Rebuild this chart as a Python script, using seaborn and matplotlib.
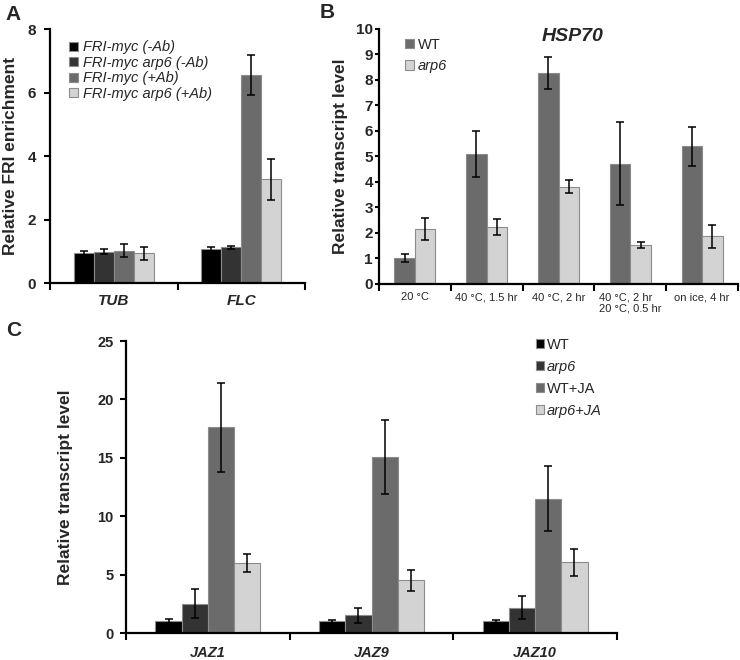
import numpy as np
import pandas as pd
import matplotlib
matplotlib.use('Agg')
import matplotlib.pyplot as plt
import seaborn as sns

# estilo
sns.set_theme(style='white')
plt.rcParams['font.family'] = ['Liberation Sans', 'DejaVu Sans']

# --- datos panel A (ChIP FRI-myc)
genes_a = ['TUB', 'FLC']
grupos_a = ['FRI-myc (-Ab)', 'FRI-myc arp6 (-Ab)', 'FRI-myc (+Ab)', 'FRI-myc arp6 (+Ab)']
medias_a = [[0.95, 1.07], [0.98, 1.12], [1.02, 6.55], [0.93, 3.27]]
errores_a = [[0.07, 0.05], [0.08, 0.04], [0.20, 0.62], [0.22, 0.65]]
colores_a = ['#000000', '#333333', '#6b6b6b', '#d3d3d3']

# --- datos panel B (HSP70)
condiciones_b = ['20 °C', '40 °C, 1.5 hr', '40 °C, 2 hr', '40 °C, 2 hr\n20 °C, 0.5 hr', 'on ice, 4 hr']
grupos_b = ['WT', 'arp6']
medias_b = [[1.02, 5.10, 8.27, 4.72, 5.40], [2.15, 2.23, 3.82, 1.53, 1.88]]
errores_b = [[0.17, 0.90, 0.62, 1.62, 0.77], [0.43, 0.30, 0.25, 0.12, 0.45]]
colores_b = ['#6b6b6b', '#d3d3d3']

# --- datos panel C (JAZ)
genes_c = ['JAZ1', 'JAZ9', 'JAZ10']
grupos_c = ['WT', 'arp6', 'WT+JA', 'arp6+JA']
medias_c = [[1.0, 1.0, 1.0], [2.50, 1.51, 2.16], [17.6, 15.08, 11.5], [5.99, 4.50, 6.04]]
errores_c = [[0.20, 0.15, 0.15], [1.24, 0.67, 1.00], [3.78, 3.16, 2.77], [0.77, 0.90, 1.14]]
colores_c = ['#000000', '#333333', '#6b6b6b', '#d3d3d3']


def barras(ax, cats, grupos, medias, errores, colores, ancho):
    filas = []
    for g, m in zip(grupos, medias):
        for c, v in zip(cats, m):
            filas.append({'cat': c, 'grupo': g, 'valor': v})
    df = pd.DataFrame(filas)
    sns.barplot(data=df, x='cat', y='valor', hue='grupo', order=cats, hue_order=grupos,
                palette=colores, width=ancho, errorbar=None, saturation=1,
                edgecolor='#8c8c8c', linewidth=0.8, ax=ax)
    for cont, e in zip(ax.containers, errores):
        xs = [p.get_x() + p.get_width() / 2 for p in cont]
        ys = [p.get_height() for p in cont]
        ax.errorbar(xs, ys, yerr=e, fmt='none', ecolor='black', elinewidth=1.1,
                    capsize=2.6, capthick=1.1, zorder=5)
    leg = ax.get_legend()
    handles = leg.legend_handles
    labels = [t.get_text() for t in leg.get_texts()]
    leg.remove()
    n = len(cats)
    ax.set_xlim(-0.5, n - 0.5)
    ax.set_xticks(np.arange(-0.5, n, 1.0), minor=True)
    ax.tick_params(axis='x', which='major', length=0)
    ax.tick_params(axis='x', which='minor', direction='out', length=5, width=1.5, color='black', bottom=True)
    ax.tick_params(axis='y', direction='out', length=4, width=1.5, color='black', left=True)
    sns.despine(ax=ax)
    for s in ['left', 'bottom']:
        ax.spines[s].set_linewidth(1.6)
        ax.spines[s].set_color('black')
    ax.set_xlabel('')
    return handles, labels


fig = plt.figure(figsize=(7.4, 6.6), dpi=100)
ax_a = fig.add_axes([0.0676, 0.5712, 0.3446, 0.3848])
ax_b = fig.add_axes([0.5122, 0.5697, 0.4851, 0.3864])
ax_c = fig.add_axes([0.1703, 0.0409, 0.6635, 0.4424])

# Panel A
h, l = barras(ax_a, genes_a, grupos_a, medias_a, errores_a, colores_a, 0.63)
ax_a.set_ylim(0, 8)
ax_a.set_yticks([0, 2, 4, 6, 8])
ax_a.set_yticklabels(['0', '2', '4', '6', '8'], fontsize=11, fontweight='bold')
ax_a.tick_params(axis='y', pad=6)
ax_a.set_xticks(range(2))
ax_a.set_xticklabels(genes_a, fontsize=11, fontweight='bold', style='italic')
ax_a.tick_params(axis='x', which='major', pad=8)
ax_a.set_ylabel('Relative FRI enrichment', fontsize=12.5, fontweight='bold')
ax_a.yaxis.set_label_coords(-0.125, 0.5)
ax_a.legend(h, l, loc='upper left', bbox_to_anchor=(0.075, 0.955), frameon=False,
            prop={'size': 10.5, 'style': 'italic'}, handlelength=0.6, handleheight=0.6,
            handletextpad=0.35, labelspacing=0.1, borderpad=0, borderaxespad=0)

# Panel B
h, l = barras(ax_b, condiciones_b, grupos_b, medias_b, errores_b, colores_b, 0.57)
ax_b.set_ylim(0, 10)
ax_b.set_yticks(range(11))
ax_b.set_yticklabels([str(i) for i in range(11)], fontsize=11, fontweight='bold')
ax_b.tick_params(axis='y', pad=1.5, length=3)
ax_b.set_xticks(range(5))
ax_b.set_xticklabels(condiciones_b, fontsize=8)
for t in ax_b.get_xticklabels():
    t.set_multialignment('left')
ax_b.tick_params(axis='x', which='major', pad=6)
ax_b.set_ylabel('Relative transcript level', fontsize=12.5, fontweight='bold')
ax_b.yaxis.set_label_coords(-0.086, 0.5)
ax_b.text(0.54, 0.97, 'HSP70', transform=ax_b.transAxes, ha='center', va='center',
          fontsize=14, fontweight='bold', style='italic')
leg = ax_b.legend(h, l, loc='upper left', bbox_to_anchor=(0.073, 0.965), frameon=False,
                  prop={'size': 10.5}, handlelength=0.6, handleheight=0.6,
                  handletextpad=0.25, labelspacing=0.5, borderpad=0, borderaxespad=0)
for t in leg.get_texts():
    if t.get_text().startswith('arp6'):
        t.set_style('italic')

# Panel C
h, l = barras(ax_c, genes_c, grupos_c, medias_c, errores_c, colores_c, 0.64)
ax_c.set_ylim(0, 25)
ax_c.set_yticks([0, 5, 10, 15, 20, 25])
ax_c.set_yticklabels(['0', '5', '10', '15', '20', '25'], fontsize=10.5, fontweight='bold')
ax_c.tick_params(axis='y', pad=5)
ax_c.set_xticks(range(3))
ax_c.set_xticklabels(genes_c, fontsize=10.5, fontweight='bold', style='italic')
ax_c.tick_params(axis='x', which='major', pad=9)
ax_c.set_ylabel('Relative transcript level', fontsize=12.5, fontweight='bold')
ax_c.yaxis.set_label_coords(-0.108, 0.5)
leg = ax_c.legend(h, l, loc='upper left', bbox_to_anchor=(0.835, 1.012), frameon=False,
                  prop={'size': 10.5}, handlelength=0.55, handleheight=0.55,
                  handletextpad=0.2, labelspacing=0.55, borderpad=0, borderaxespad=0)
for t in leg.get_texts():
    if t.get_text().startswith('arp6'):
        t.set_style('italic')

# letras de panel
fig.text(5 / 740, 1 - 5 / 660, 'A', fontsize=15, fontweight='bold', va='top', ha='left')
fig.text(320 / 740, 1 - 3 / 660, 'B', fontsize=15, fontweight='bold', va='top', ha='left')
fig.text(6 / 740, 1 - 321 / 660, 'C', fontsize=15, fontweight='bold', va='top', ha='left')

fig.savefig('out.png', dpi=100)
